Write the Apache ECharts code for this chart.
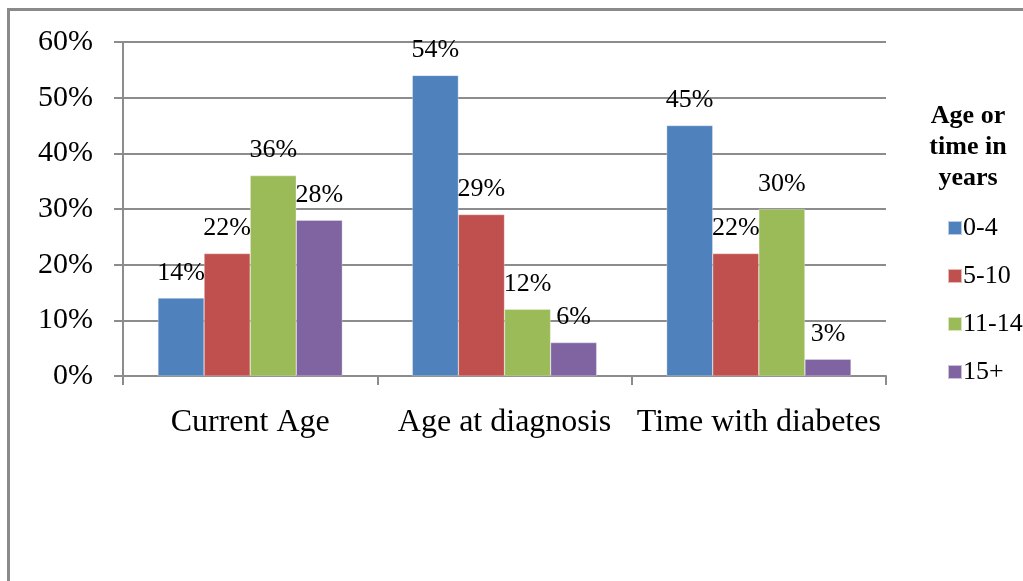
<!DOCTYPE html>
<html>
<head>
<meta charset="utf-8">
<script src="https://cdn.jsdelivr.net/npm/echarts@6/dist/echarts.min.js"></script>
<style>
  html, body { margin: 0; padding: 0; background: #fff; }
  #chart { width: 1023px; height: 581px; }
</style>
</head>
<body>
<div id="chart"></div>
<script>
// Categories along the x axis
const categories = ['Current Age', 'Age at diagnosis', 'Time with diabetes'];

// Share of respondents per age / duration band (percent)
const band0to4   = [14, 54, 45];
const band5to10  = [22, 29, 22];
const band11to14 = [36, 12, 30];
const band15plus = [28, 6, 3];

const seriesNames = ['0-4', '5-10', '11-14', '15+'];
const seriesColors = ['#4F81BD', '#C0504D', '#9BBB59', '#8064A2'];
const legendTitle = 'Age or\ntime in\nyears';

const serif = '"Liberation Serif", "Times New Roman", serif';
const gridColor = '#8c8c8c';

const values = [band0to4, band5to10, band11to14, band15plus];

const chart = echarts.init(document.getElementById('chart'));

chart.setOption({
  animation: false,
  backgroundColor: '#ffffff',
  graphic: [
    {
      type: 'rect',
      shape: { x: 8.5, y: 9.5, width: 1200, height: 800 },
      style: { fill: 'none', stroke: '#8a8a8a', lineWidth: 3 },
      silent: true
    },
    {
      type: 'text',
      left: 918,
      top: 101,
      style: {
        text: legendTitle,
        font: 'bold 26px ' + serif,
        fill: '#000',
        textAlign: 'center',
        lineHeight: 31,
        width: 100
      }
    }
  ],
  grid: { left: 123, right: 137, top: 42, bottom: 205, containLabel: false },
  legend: {
    orient: 'vertical',
    left: 942,
    top: 210,
    itemWidth: 14,
    itemHeight: 14,
    itemGap: 22,
    icon: 'rect',
    textStyle: { fontFamily: serif, fontSize: 26, color: '#000', padding: [0, 0, 0, -4] },
    data: seriesNames
  },
  xAxis: {
    type: 'category',
    data: categories,
    axisLine: { lineStyle: { color: gridColor, width: 2 } },
    axisTick: { show: true, length: 9, inside: false, alignWithLabel: false, lineStyle: { color: gridColor, width: 2 } },
    axisLabel: { fontFamily: serif, fontSize: 32, color: '#000', margin: 31, interval: 0 }
  },
  yAxis: {
    type: 'value',
    min: 0,
    max: 60,
    interval: 10,
    axisLine: { show: true, lineStyle: { color: gridColor, width: 2 } },
    axisTick: { show: true, length: 9, lineStyle: { color: gridColor, width: 2 } },
    splitLine: { show: true, lineStyle: { color: gridColor, width: 2 } },
    axisLabel: {
      fontFamily: serif, fontSize: 30, color: '#000', margin: 30,
      formatter: v => v + '%'
    }
  },
  series: seriesNames.map((name, i) => ({
    name,
    type: 'bar',
    data: values[i],
    barGap: '0%',
    barCategoryGap: '27.5%',
    itemStyle: { color: seriesColors[i], borderColor: 'rgba(255,255,255,0.6)', borderWidth: 0.5 },
    label: {
      show: true,
      position: 'top',
      distance: 12,
      fontFamily: serif,
      fontSize: 26,
      color: '#000',
      formatter: p => p.value + '%'
    }
  }))
});
</script>
</body>
</html>
